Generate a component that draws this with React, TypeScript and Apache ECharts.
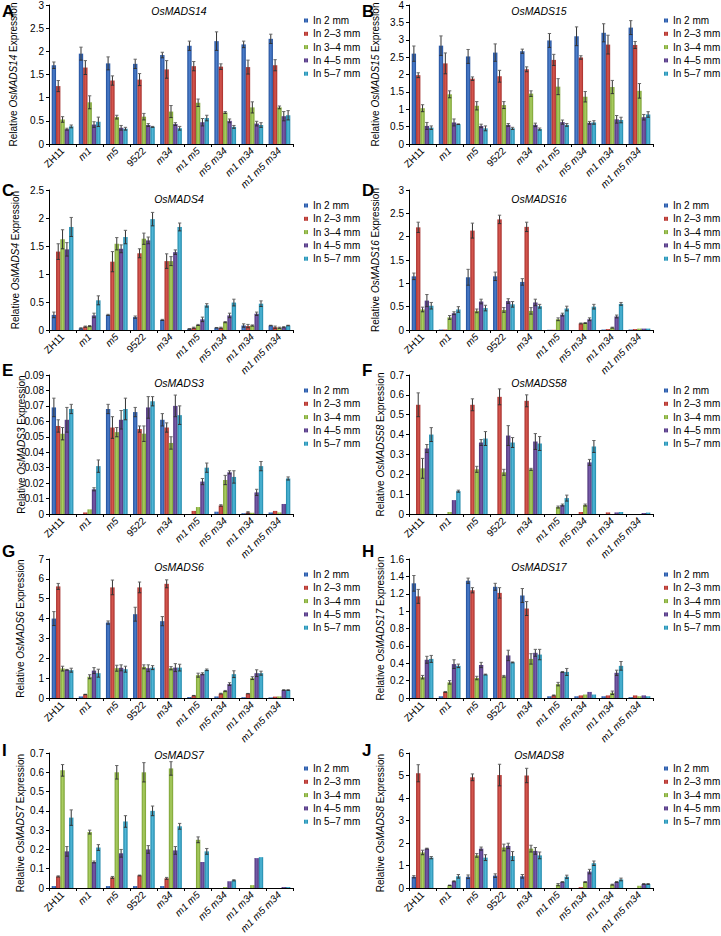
import React, { useEffect, useRef } from "react";
import * as echarts from "echarts";

const CATEGORIES = ["ZH11", "m1", "m5", "9522", "m34", "m1 m5", "m5 m34", "m1 m34", "m1 m5 m34"];
const NORMAL_CATS = ["ZH11", "9522"];
const STAGES = ["In 2 mm", "In 2\u20133 mm", "In 3\u20134 mm", "In 4\u20135 mm", "In 5\u20137 mm"];

// rows: stages (2, 2-3, 3-4, 4-5, 5-7 mm); columns: CATEGORIES
const MADS14_VALUES = [
  [1.70, 1.95, 1.74, 1.73, 1.92, 2.12, 2.22, 2.15, 2.27],
  [1.25, 1.65, 1.37, 1.39, 1.61, 1.68, 1.67, 1.66, 1.70],
  [0.53, 0.90, 0.58, 0.59, 0.70, 0.89, 0.68, 0.79, 0.79],
  [0.32, 0.42, 0.35, 0.41, 0.43, 0.47, 0.50, 0.44, 0.60],
  [0.38, 0.48, 0.33, 0.37, 0.34, 0.56, 0.37, 0.41, 0.62],
];
const MADS14_ERRORS = [
  [0.07, 0.14, 0.14, 0.10, 0.06, 0.10, 0.20, 0.07, 0.10],
  [0.12, 0.15, 0.10, 0.13, 0.19, 0.10, 0.06, 0.15, 0.12],
  [0.06, 0.14, 0.04, 0.07, 0.13, 0.08, 0.02, 0.12, 0.03],
  [0.02, 0.06, 0.05, 0.03, 0.03, 0.08, 0.04, 0.05, 0.10],
  [0.03, 0.10, 0.03, 0.01, 0.04, 0.06, 0.03, 0.05, 0.10],
];

const MADS15_VALUES = [
  [2.60, 2.83, 2.52, 2.63, 2.67, 2.98, 3.10, 3.20, 3.35],
  [1.98, 2.32, 1.88, 1.95, 2.15, 2.42, 2.49, 2.86, 2.85],
  [1.03, 1.43, 1.10, 1.12, 1.45, 1.65, 1.36, 1.64, 1.53],
  [0.52, 0.62, 0.52, 0.55, 0.55, 0.63, 0.61, 0.71, 0.77],
  [0.47, 0.57, 0.45, 0.45, 0.43, 0.55, 0.62, 0.69, 0.85],
];
const MADS15_ERRORS = [
  [0.22, 0.28, 0.20, 0.25, 0.06, 0.20, 0.27, 0.26, 0.20],
  [0.07, 0.30, 0.05, 0.17, 0.07, 0.16, 0.05, 0.27, 0.10],
  [0.10, 0.10, 0.12, 0.10, 0.08, 0.23, 0.15, 0.19, 0.21],
  [0.10, 0.10, 0.05, 0.04, 0.05, 0.06, 0.04, 0.11, 0.08],
  [0.05, 0.01, 0.07, 0.03, 0.03, 0.04, 0.05, 0.08, 0.08],
];

const MADS4_VALUES = [
  [0.27, 0.03, 0.27, 0.23, 0.18, 0.02, 0.04, 0.08, 0.08],
  [1.40, 0.06, 1.22, 1.37, 1.23, 0.04, 0.04, 0.07, 0.05],
  [1.62, 0.07, 1.54, 1.63, 1.23, 0.09, 0.14, 0.08, 0.04],
  [1.44, 0.26, 1.45, 1.60, 1.39, 0.19, 0.26, 0.29, 0.05],
  [1.84, 0.53, 1.66, 1.98, 1.84, 0.44, 0.49, 0.47, 0.08],
];
const MADS4_ERRORS = [
  [0.05, 0.01, 0.01, 0.02, 0.01, 0.005, 0.005, 0.03, 0.005],
  [0.14, 0.01, 0.18, 0.08, 0.13, 0.01, 0.01, 0.03, 0.02],
  [0.17, 0.01, 0.11, 0.10, 0.08, 0.01, 0.01, 0.01, 0.01],
  [0.12, 0.04, 0.07, 0.06, 0.04, 0.04, 0.04, 0.03, 0.01],
  [0.17, 0.08, 0.12, 0.12, 0.07, 0.03, 0.06, 0.05, 0.005],
];

const MADS16_VALUES = [
  [1.15, 0.01, 1.13, 1.15, 1.03, 0.005, 0.0, 0.01, 0.01],
  [2.20, 0.01, 2.13, 2.37, 2.21, 0.005, 0.14, 0.02, 0.02],
  [0.44, 0.27, 0.41, 0.43, 0.41, 0.23, 0.15, 0.05, 0.03],
  [0.63, 0.36, 0.61, 0.62, 0.59, 0.33, 0.23, 0.29, 0.03],
  [0.52, 0.44, 0.47, 0.55, 0.51, 0.46, 0.50, 0.56, 0.03],
];
const MADS16_ERRORS = [
  [0.07, 0, 0.17, 0.09, 0.07, 0, 0, 0, 0],
  [0.11, 0, 0.16, 0.09, 0.10, 0, 0.01, 0, 0],
  [0.05, 0.04, 0.04, 0.05, 0.07, 0.03, 0.01, 0.01, 0],
  [0.13, 0.03, 0.05, 0.05, 0.07, 0.03, 0.03, 0.03, 0],
  [0.07, 0.06, 0.06, 0.06, 0.04, 0.05, 0.05, 0.03, 0],
];

const MADS3_VALUES = [
  [0.069, 0.0, 0.068, 0.066, 0.061, 0.0, 0.0015, 0.0005, 0.001],
  [0.057, 0.001, 0.056, 0.055, 0.056, 0.002, 0.0055, 0.001, 0.002],
  [0.052, 0.003, 0.053, 0.052, 0.046, 0.0045, 0.022, 0.0008, 0.001],
  [0.061, 0.016, 0.061, 0.069, 0.070, 0.021, 0.027, 0.014, 0.0065],
  [0.068, 0.031, 0.068, 0.073, 0.064, 0.030, 0.024, 0.031, 0.023],
];
const MADS3_ERRORS = [
  [0.006, 0, 0.003, 0.003, 0.004, 0, 0, 0, 0],
  [0.004, 0, 0.007, 0.002, 0.003, 0, 0.0005, 0.0005, 0],
  [0.004, 0, 0.003, 0.005, 0.004, 0, 0.003, 0, 0],
  [0.008, 0.001, 0.006, 0.007, 0.007, 0.002, 0.001, 0.002, 0],
  [0.003, 0.004, 0.007, 0.003, 0.006, 0.003, 0.004, 0.003, 0.001],
];

const MADS58_VALUES = [
  [0, 0, 0, 0, 0, 0, 0, 0, 0],
  [0.55, 0, 0.55, 0.59, 0.57, 0, 0.01, 0.008, 0],
  [0.23, 0.01, 0.225, 0.21, 0.225, 0.035, 0.045, 0, 0],
  [0.33, 0.07, 0.36, 0.395, 0.365, 0.045, 0.26, 0.008, 0.005],
  [0.40, 0.115, 0.38, 0.36, 0.355, 0.08, 0.34, 0.01, 0.007],
];
const MADS58_ERRORS = [
  [0, 0, 0, 0, 0, 0, 0, 0, 0],
  [0.06, 0, 0.03, 0.04, 0.03, 0, 0, 0, 0],
  [0.05, 0, 0.015, 0.015, 0.005, 0.005, 0.005, 0, 0],
  [0.02, 0, 0.015, 0.05, 0.04, 0.005, 0.015, 0, 0],
  [0.035, 0.005, 0.035, 0.025, 0.035, 0.015, 0.03, 0, 0],
];

const MADS6_VALUES = [
  [4.00, 0.08, 3.80, 4.22, 3.87, 0.05, 0.08, 0.04, 0.03],
  [5.62, 0.18, 5.57, 5.57, 5.75, 0.12, 0.22, 0.22, 0.07],
  [1.48, 1.07, 1.50, 1.57, 1.50, 1.15, 0.35, 1.00, 0.08],
  [1.42, 1.38, 1.52, 1.50, 1.53, 1.22, 0.70, 1.25, 0.40],
  [1.40, 1.25, 1.45, 1.53, 1.53, 1.42, 1.20, 1.25, 0.40],
];
const MADS6_ERRORS = [
  [0.35, 0, 0.08, 0.35, 0.23, 0, 0, 0, 0],
  [0.15, 0.01, 0.37, 0.27, 0.20, 0.01, 0.02, 0.01, 0],
  [0.12, 0.10, 0.15, 0.10, 0.08, 0.10, 0.03, 0.07, 0],
  [0.02, 0.15, 0.15, 0.17, 0.20, 0.05, 0.07, 0.17, 0.02],
  [0.10, 0.20, 0.15, 0.10, 0.17, 0.04, 0.17, 0.10, 0.02],
];

const MADS17_VALUES = [
  [1.32, 0.02, 1.35, 1.28, 1.18, 0.02, 0.02, 0.02, 0.01],
  [1.17, 0.07, 1.24, 1.21, 1.03, 0.03, 0.03, 0.03, 0.03],
  [0.24, 0.18, 0.23, 0.25, 0.45, 0.16, 0.04, 0.06, 0.02],
  [0.44, 0.39, 0.38, 0.49, 0.52, 0.30, 0.07, 0.29, 0.03],
  [0.45, 0.37, 0.27, 0.41, 0.50, 0.30, 0.04, 0.37, 0.02],
];
const MADS17_ERRORS = [
  [0.09, 0, 0.03, 0.04, 0.08, 0, 0, 0, 0],
  [0.08, 0.005, 0.03, 0.06, 0.08, 0.005, 0, 0, 0],
  [0.02, 0.02, 0.02, 0.01, 0.06, 0.02, 0, 0.02, 0],
  [0.04, 0.05, 0.03, 0.06, 0.04, 0.005, 0, 0.03, 0],
  [0.04, 0.02, 0.005, 0.005, 0.06, 0.04, 0, 0.05, 0],
];

const MADS7_VALUES = [
  [0.01, 0, 0.01, 0.01, 0.01, 0, 0, 0, 0],
  [0.06, 0, 0.055, 0.065, 0.05, 0, 0, 0, 0],
  [0.61, 0.29, 0.60, 0.60, 0.62, 0.25, 0.005, 0.015, 0],
  [0.19, 0.135, 0.18, 0.20, 0.195, 0.135, 0.035, 0.155, 0.005],
  [0.365, 0.21, 0.345, 0.40, 0.32, 0.19, 0.04, 0.16, 0.005],
];
const MADS7_ERRORS = [
  [0, 0, 0, 0, 0, 0, 0, 0, 0],
  [0.003, 0, 0.005, 0.002, 0.005, 0, 0, 0, 0],
  [0.03, 0.01, 0.035, 0.05, 0.035, 0.015, 0, 0, 0],
  [0.025, 0.005, 0.02, 0.02, 0.02, 0, 0, 0, 0],
  [0.04, 0.015, 0.03, 0.025, 0.015, 0.015, 0.003, 0, 0],
];

const MADS8_VALUES = [
  [0.50, 0, 0.50, 0.55, 0.52, 0, 0, 0, 0],
  [5.10, 0, 4.92, 5.02, 5.00, 0, 0.04, 0, 0],
  [1.58, 0.12, 1.45, 1.80, 1.75, 0.15, 0.27, 0.15, 0.10],
  [1.75, 0.30, 1.75, 1.87, 1.65, 0.27, 0.73, 0.27, 0.18],
  [1.35, 0.52, 1.35, 1.42, 1.45, 0.50, 1.10, 0.38, 0.18],
];
const MADS8_ERRORS = [
  [0.05, 0, 0.08, 0.08, 0.08, 0, 0, 0, 0],
  [0.38, 0, 0.15, 0.48, 0.32, 0, 0, 0, 0],
  [0.10, 0.01, 0.08, 0.15, 0.15, 0.05, 0.02, 0.02, 0],
  [0.02, 0.02, 0.07, 0.12, 0.15, 0.01, 0.10, 0.02, 0.02],
  [0.05, 0.08, 0.13, 0.20, 0.15, 0.07, 0.10, 0.06, 0.02],
];

const PANELS = [
  { letter: "A", gene: "OsMADS14", values: MADS14_VALUES, errors: MADS14_ERRORS, max: 3, interval: 0.5, col: 0, row: 0, nameX: 13 },
  { letter: "B", gene: "OsMADS15", values: MADS15_VALUES, errors: MADS15_ERRORS, max: 4, interval: 0.5, col: 1, row: 0, nameX: 15 },
  { letter: "C", gene: "OsMADS4", values: MADS4_VALUES, errors: MADS4_ERRORS, max: 2.5, interval: 0.5, col: 0, row: 1, nameX: 15 },
  { letter: "D", gene: "OsMADS16", values: MADS16_VALUES, errors: MADS16_ERRORS, max: 3, interval: 0.5, col: 1, row: 1, nameX: 15 },
  { letter: "E", gene: "OsMADS3", values: MADS3_VALUES, errors: MADS3_ERRORS, max: 0.09, interval: 0.01, col: 0, row: 2, nameX: 21 },
  { letter: "F", gene: "OsMADS58", values: MADS58_VALUES, errors: MADS58_ERRORS, max: 0.7, interval: 0.1, col: 1, row: 2, nameX: 20 },
  { letter: "G", gene: "OsMADS6", values: MADS6_VALUES, errors: MADS6_ERRORS, max: 7, interval: 1, col: 0, row: 3, nameX: 20 },
  { letter: "H", gene: "OsMADS17", values: MADS17_VALUES, errors: MADS17_ERRORS, max: 1.6, interval: 0.2, col: 1, row: 3, nameX: 20 },
  { letter: "I", gene: "OsMADS7", values: MADS7_VALUES, errors: MADS7_ERRORS, max: 0.7, interval: 0.1, col: 0, row: 4, nameX: 20 },
  { letter: "J", gene: "OsMADS8", values: MADS8_VALUES, errors: MADS8_ERRORS, max: 6, interval: 1, col: 1, row: 4, nameX: 20 },
];

const ROW_TOPS = [5, 190, 375, 559, 753];
const ROW_HEIGHTS = [139, 140, 139, 139, 140];
const TITLE_OFFSETS = [6, 9, 8, 8, 2];
const LETTER_TOPS = [3, 182, 362, 543, 742];
const COL_X = [0, 360];
const GRID_LEFT = 49;
const GRID_WIDTH = 244;
const CAT_GAP = 0.2;
const FONT = '"Liberation Sans", Arial, sans-serif';

const STAGE_COLORS = [
  ["#1f4c98", "#4d7fcc"],
  ["#a52d2a", "#d6574f"],
  ["#789e30", "#abcf63"],
  ["#4a3176", "#785cab"],
  ["#1d86a8", "#52b8d8"],
];

function grad(c: string[]) {
  return new echarts.graphic.LinearGradient(0, 0, 1, 0, [
    { offset: 0, color: c[0] },
    { offset: 0.5, color: c[1] },
    { offset: 1, color: c[0] },
  ]);
}

function buildOption() {
  const grid: any[] = [];
  const xAxis: any[] = [];
  const yAxis: any[] = [];
  const series: any[] = [];
  const legend: any[] = [];
  const graphic: any[] = [];

  PANELS.forEach((p, gi) => {
    const x0 = COL_X[p.col];
    const top = ROW_TOPS[p.row];
    const height = ROW_HEIGHTS[p.row];
    grid.push({ left: x0 + GRID_LEFT, top, width: GRID_WIDTH, height, containLabel: false });
    xAxis.push({
      type: "category",
      gridIndex: gi,
      data: CATEGORIES,
      axisLine: { lineStyle: { color: "#000", width: 1 } },
      axisTick: { show: true, length: 3, interval: 0, lineStyle: { color: "#000" } },
      axisLabel: {
        interval: 0,
        rotate: 45,
        margin: 5,
        fontSize: 10,
        color: "#000",
        fontFamily: FONT,
        formatter: (v: string) => (NORMAL_CATS.includes(v) ? `{n|${v}}` : `{i|${v}}`),
        rich: {
          n: { fontSize: 10, fontFamily: FONT, color: "#000" },
          i: { fontSize: 10, fontFamily: FONT, color: "#000", fontStyle: "italic" },
        },
      },
      splitLine: { show: false },
    });
    yAxis.push({
      type: "value",
      gridIndex: gi,
      min: 0,
      max: p.max,
      interval: p.interval,
      axisLine: { show: true, lineStyle: { color: "#000", width: 1 } },
      axisTick: { show: true, length: 3, lineStyle: { color: "#000" } },
      axisLabel: { fontSize: 10, color: "#000", fontFamily: FONT, margin: 5 },
      splitLine: { show: false },
    });
    STAGES.forEach((s, si) => {
      series.push({
        type: "bar",
        name: s,
        xAxisIndex: gi,
        yAxisIndex: gi,
        data: p.values[si],
        barGap: "0%",
        barCategoryGap: `${CAT_GAP * 100}%`,
        itemStyle: { color: grad(STAGE_COLORS[si]) },
        z: 2,
      });
    });
    const errData: number[][] = [];
    p.values.forEach((row, si) =>
      row.forEach((v, ci) => errData.push([ci, si, v, p.errors[si][ci]]))
    );
    series.push({
      type: "custom",
      xAxisIndex: gi,
      yAxisIndex: gi,
      data: errData,
      encode: { x: 0, y: 2 },
      z: 5,
      silent: true,
      renderItem: (params: any, api: any) => {
        const c = api.value(0);
        const s = api.value(1);
        const v = api.value(2);
        const e = api.value(3);
        if (!(e > 0)) return { type: "group", children: [] };
        const band = api.size([1, 0])[0];
        const used = band * (1 - CAT_GAP);
        const bw = used / 5;
        const cx = api.coord([c, v])[0] - used / 2 + bw * (s + 0.5);
        const yTop = api.coord([c, v + e])[1];
        const yBot = api.coord([c, Math.max(0, v - e)])[1];
        const hw = bw * 0.38;
        const st = { stroke: "#333", lineWidth: 1 };
        return {
          type: "group",
          children: [
            { type: "line", shape: { x1: cx, y1: yTop, x2: cx, y2: yBot }, style: st },
            { type: "line", shape: { x1: cx - hw, y1: yTop, x2: cx + hw, y2: yTop }, style: { stroke: "#666", lineWidth: 1 } },
            { type: "line", shape: { x1: cx - hw, y1: yBot, x2: cx + hw, y2: yBot }, style: st },
          ],
        };
      },
    });
    legend.push({
      left: x0 + 304,
      top: top + 10,
      orient: "vertical",
      itemWidth: 4,
      itemHeight: 4,
      itemGap: 2.3,
      icon: "rect",
      padding: 0,
      data: STAGES,
      selectedMode: false,
      textStyle: { fontSize: 10, fontFamily: FONT, color: "#000", lineHeight: 11 },
    });
    graphic.push({
      type: "text",
      x: x0 + 179,
      y: top + TITLE_OFFSETS[p.row],
      style: {
        text: p.gene,
        font: `italic 10.5px ${FONT}`,
        fill: "#000",
        align: "center",
        verticalAlign: "middle",
      },
    });
    graphic.push({
      type: "text",
      x: x0 + p.nameX,
      y: top + height / 2,
      rotation: Math.PI / 2,
      style: {
        text: `Relative {i|${p.gene}} Expression`,
        fontSize: 10,
        fontFamily: FONT,
        fill: "#000",
        align: "center",
        verticalAlign: "middle",
        rich: {
          i: { fontSize: 10, fontFamily: FONT, fill: "#000", fontStyle: "italic" },
        },
      },
    });
    graphic.push({
      type: "text",
      x: x0 + 2,
      y: LETTER_TOPS[p.row],
      style: {
        text: p.letter,
        font: `bold 17px ${FONT}`,
        fill: "#000",
        align: "left",
        verticalAlign: "top",
      },
    });
  });

  return {
    animation: false,
    backgroundColor: "#fff",
    textStyle: { fontFamily: FONT },
    grid,
    xAxis,
    yAxis,
    series,
    legend,
    graphic,
  };
}

export default function App() {
  const ref = useRef<HTMLDivElement>(null);
  useEffect(() => {
    if (!ref.current) return;
    const chart = echarts.init(ref.current, null, { renderer: "svg" });
    chart.setOption(buildOption());
    return () => chart.dispose();
  }, []);
  return (
    <div
      ref={ref}
      style={{ position: "fixed", left: 0, top: 0, width: 721, height: 936, background: "#fff" }}
    />
  );
}
